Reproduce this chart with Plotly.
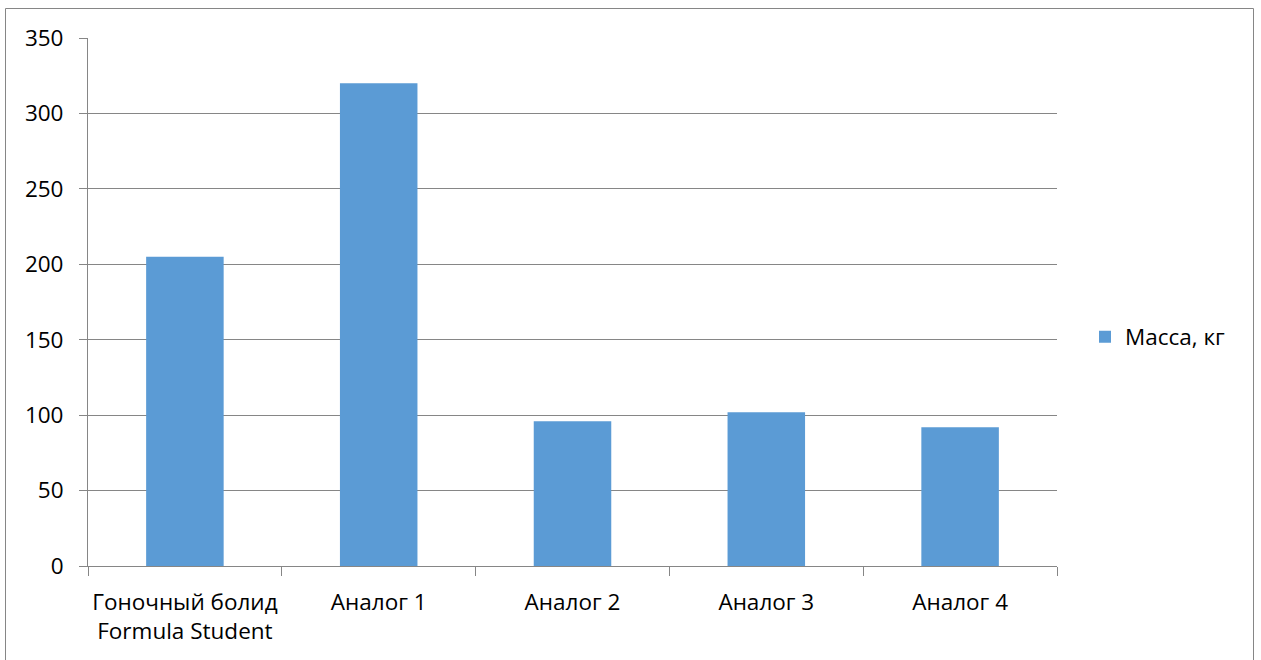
import plotly.graph_objects as go

# Масса болида и аналогов
categories = ["Гоночный болид<br>Formula Student", "Аналог 1", "Аналог 2", "Аналог 3", "Аналог 4"]
mass_kg = [205, 320, 96, 102, 92]
series_name = "Масса, кг"
y_ticks = [0, 50, 100, 150, 200, 250, 300, 350]

W, H = 1261, 660
L, R, T, B = 88, 1057, 38, 566
pw, ph = R - L, B - T

def px(x):
    return (x - L) / pw

def py(y):
    return (B - y) / ph

grey = "#868686"
font = dict(family="Open Sans", size=22.5, color="#000000")

fig = go.Figure()
fig.add_trace(go.Bar(
    x=categories, y=mass_kg, name=series_name,
    marker=dict(color="#5B9BD5", line=dict(width=0)),
    showlegend=True,
))

fig.update_layout(
    width=W, height=H,
    margin=dict(l=L, r=W - R, t=T, b=H - B, autoexpand=False),
    paper_bgcolor="white", plot_bgcolor="white",
    font=font,
    bargap=0.6,
    showlegend=True,
    legend=dict(x=px(1085), y=py(337), xanchor="left", yanchor="middle",
                font=font, bgcolor="rgba(0,0,0,0)"),
    xaxis=dict(
        type="category", showline=True, linecolor=grey, linewidth=1,
        ticks="outside", tickson="boundaries", ticklen=9, tickcolor=grey,
        showgrid=False, tickfont=font, ticklabelstandoff=16,
        tickangle=0, automargin=False,
    ),
    yaxis=dict(
        range=[0, 350], tickvals=y_ticks, showline=True, linecolor=grey, linewidth=1,
        showgrid=True, gridcolor=grey, gridwidth=1, zeroline=False,
        ticks="outside", ticklen=8, tickcolor=grey, tickfont=font,
        ticklabelstandoff=11, automargin=False,
    ),
    shapes=[dict(
        type="rect", xref="paper", yref="paper",
        x0=px(5.5), x1=px(1253.5), y0=py(680), y1=py(8.5),
        line=dict(color=grey, width=1), fillcolor="rgba(0,0,0,0)", layer="below",
    )],
)

fig.write_html("out.html")
